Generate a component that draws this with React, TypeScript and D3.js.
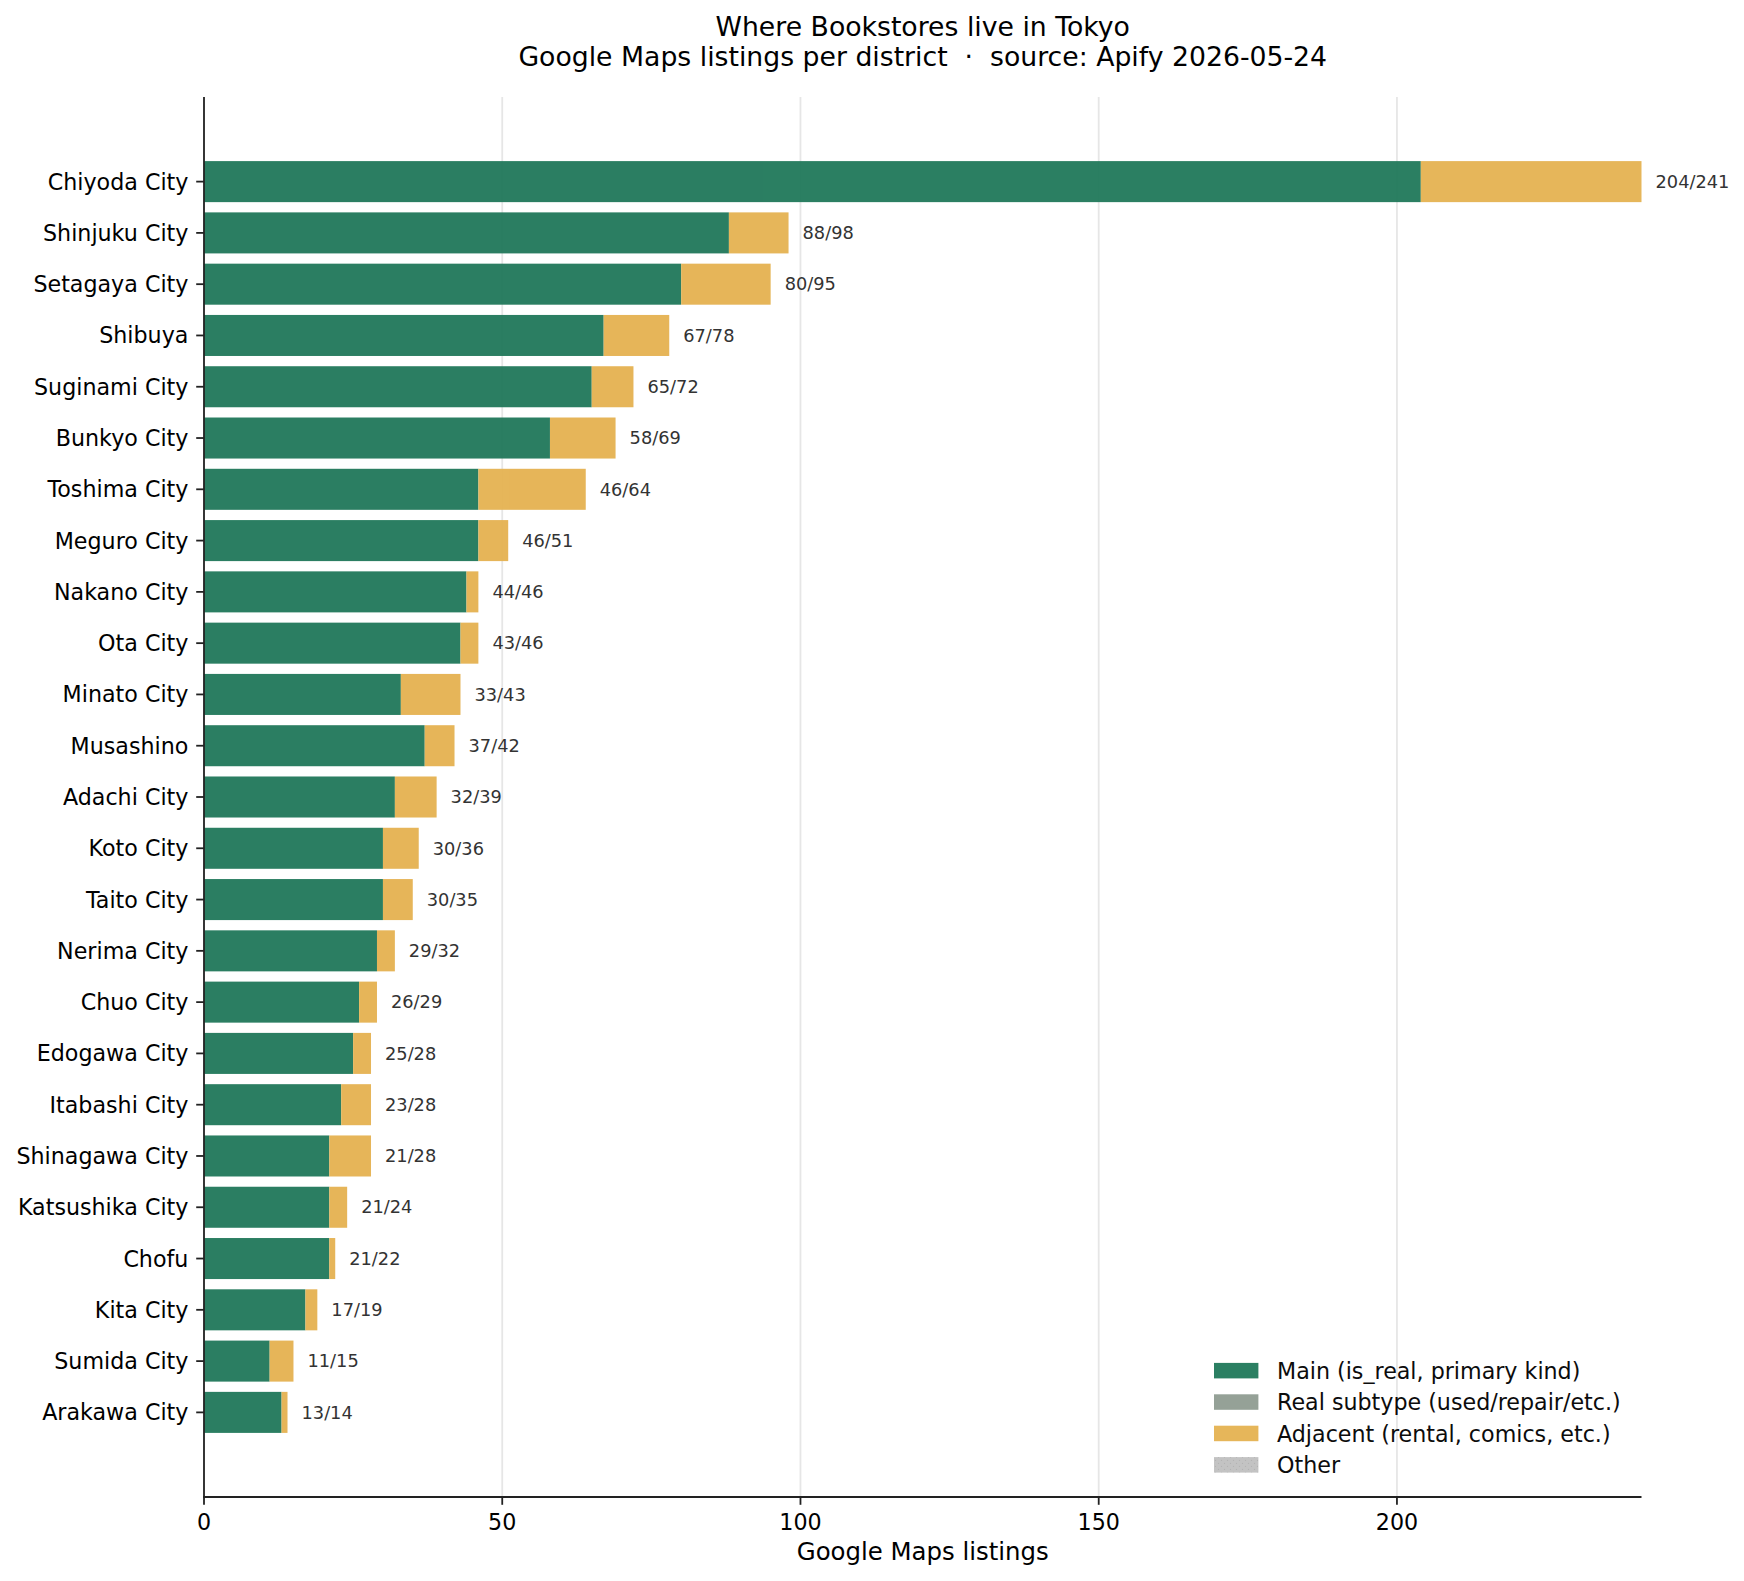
import * as d3 from "d3";

// Google Maps listings per Tokyo district (sorted by total)
const districts = [
  "Chiyoda City", "Shinjuku City", "Setagaya City", "Shibuya", "Suginami City",
  "Bunkyo City", "Toshima City", "Meguro City", "Nakano City", "Ota City",
  "Minato City", "Musashino", "Adachi City", "Koto City", "Taito City",
  "Nerima City", "Chuo City", "Edogawa City", "Itabashi City", "Shinagawa City",
  "Katsushika City", "Chofu", "Kita City", "Sumida City", "Arakawa City",
];
const mainCounts = [204, 88, 80, 67, 65, 58, 46, 46, 44, 43, 33, 37, 32, 30, 30, 29, 26, 25, 23, 21, 21, 21, 17, 11, 13];
const subtypeCounts = [0, 0, 0, 0, 0, 0, 0, 0, 0, 0, 0, 0, 0, 0, 0, 0, 0, 0, 0, 0, 0, 0, 0, 0, 0];
const adjacentCounts = [37, 10, 15, 11, 7, 11, 18, 5, 2, 3, 10, 5, 7, 6, 5, 3, 3, 3, 5, 7, 3, 1, 2, 4, 1];
const otherCounts = [0, 0, 0, 0, 0, 0, 0, 0, 0, 0, 0, 0, 0, 0, 0, 0, 0, 0, 0, 0, 0, 0, 0, 0, 0];
const xTicks = [0, 50, 100, 150, 200];

const SERIES = [
  { key: "main", label: "Main (is_real, primary kind)", color: "#20785a", values: mainCounts },
  { key: "subtype", label: "Real subtype (used/repair/etc.)", color: "#8f9c91", values: subtypeCounts },
  { key: "adjacent", label: "Adjacent (rental, comics, etc.)", color: "#e5b251", values: adjacentCounts },
  { key: "other", label: "Other", color: "#bcbcbc", values: otherCounts },
];

const W = 1744;
const H = 1581;
const margin = { top: 97, right: 102.5, bottom: 84, left: 204 };
const FONT = "DejaVu Sans, sans-serif";

export default function App() {
  const totals = districts.map((_, i) => d3.sum(SERIES, s => s.values[i]));

  const x = d3.scaleLinear()
    .domain([0, 241])
    .range([margin.left, W - margin.right]);

  const y = d3.scaleLinear()
    .domain([-1.65, districts.length - 1 + 1.65])
    .range([margin.top, H - margin.bottom]);

  const barH = y(0.4) - y(-0.4);
  const plotBottom = H - margin.bottom;
  const cx = (x.range()[0] + x.range()[1]) / 2;

  // stacked segments
  const stack = d3.stack<number>()
    .keys(SERIES.map((_, k) => String(k)))
    .value((i, k) => SERIES[+k].values[i]);
  const layers = stack(districts.map((_, i) => i));

  const legendX = 1214;
  const legendY0 = 1370.7;
  const legendStep = 31.4;

  return (
    <div style={{ position: "absolute", left: 0, top: 0 }}>
      <svg width={W} height={H} style={{ display: "block", background: "#fff" }} fontFamily={FONT}>
        <defs>
          <pattern id="dots" width="6" height="6" patternUnits="userSpaceOnUse">
            <rect width="6" height="6" fill="#c0c0c0" />
            <circle cx="1.5" cy="1.5" r="0.6" fill="#aaa" />
            <circle cx="4.5" cy="4.5" r="0.6" fill="#aaa" />
          </pattern>
        </defs>

        {/* title */}
        <text x={cx} y={36} textAnchor="middle" fontSize={26.7} fill="#000">Where Bookstores live in Tokyo</text>
        <text x={cx} y={66} textAnchor="middle" fontSize={26.7} fill="#000" style={{ whiteSpace: "pre" }}>
          {"Google Maps listings per district  \u00b7  source: Apify 2026-05-24"}
        </text>

        {/* grid */}
        {xTicks.map(t => (
          <line key={`g${t}`} x1={x(t)} x2={x(t)} y1={margin.top} y2={plotBottom} stroke="#e6e6e6" strokeWidth={1.8} />
        ))}

        {/* bars */}
        {layers.map((layer, k) => (
          <g key={SERIES[k].key} opacity={0.95}>
            {layer.map((d, i) => (d[1] - d[0] > 0 ? (
              <rect key={i} x={x(d[0])} y={y(i) - barH / 2} width={x(d[1]) - x(d[0])} height={barH}
                fill={SERIES[k].key === "other" ? "url(#dots)" : SERIES[k].color} />
            ) : null))}
          </g>
        ))}

        {/* value labels */}
        {districts.map((_, i) => (
          <text key={`v${i}`} x={x(totals[i]) + 14} y={y(i)} dy="0.35em" fontSize={17.8} fill="#333">
            {`${mainCounts[i]}/${totals[i]}`}
          </text>
        ))}

        {/* y axis */}
        <line x1={margin.left} x2={margin.left} y1={margin.top} y2={plotBottom} stroke="#222" strokeWidth={1.8} />
        {districts.map((name, i) => (
          <g key={name}>
            <line x1={margin.left - 7.8} x2={margin.left} y1={y(i)} y2={y(i)} stroke="#222" strokeWidth={1.8} />
            <text x={margin.left - 15.6} y={y(i)} dy="0.36em" textAnchor="end" fontSize={22.2} fill="#000">{name}</text>
          </g>
        ))}

        {/* x axis */}
        <line x1={margin.left - 0.9} x2={W - margin.right} y1={plotBottom} y2={plotBottom} stroke="#222" strokeWidth={1.8} />
        {xTicks.map(t => (
          <g key={`t${t}`}>
            <line x1={x(t)} x2={x(t)} y1={plotBottom} y2={plotBottom + 7.8} stroke="#222" strokeWidth={1.8} />
            <text x={x(t)} y={1529.5} textAnchor="middle" fontSize={22.2} fill="#000">{t}</text>
          </g>
        ))}
        <text x={cx} y={1560} textAnchor="middle" fontSize={24.4} fill="#000">Google Maps listings</text>

        {/* legend */}
        {SERIES.map((s, k) => (
          <g key={`l${s.key}`} transform={`translate(${legendX},${legendY0 + k * legendStep})`} opacity={0.95}>
            <rect x={0} y={-7.8} width={44.4} height={15.5} fill={s.key === "other" ? "url(#dots)" : s.color} />
            <text x={63} y={0} dy="0.36em" fontSize={22.2} fill="#000">{s.label}</text>
          </g>
        ))}
      </svg>
    </div>
  );
}
